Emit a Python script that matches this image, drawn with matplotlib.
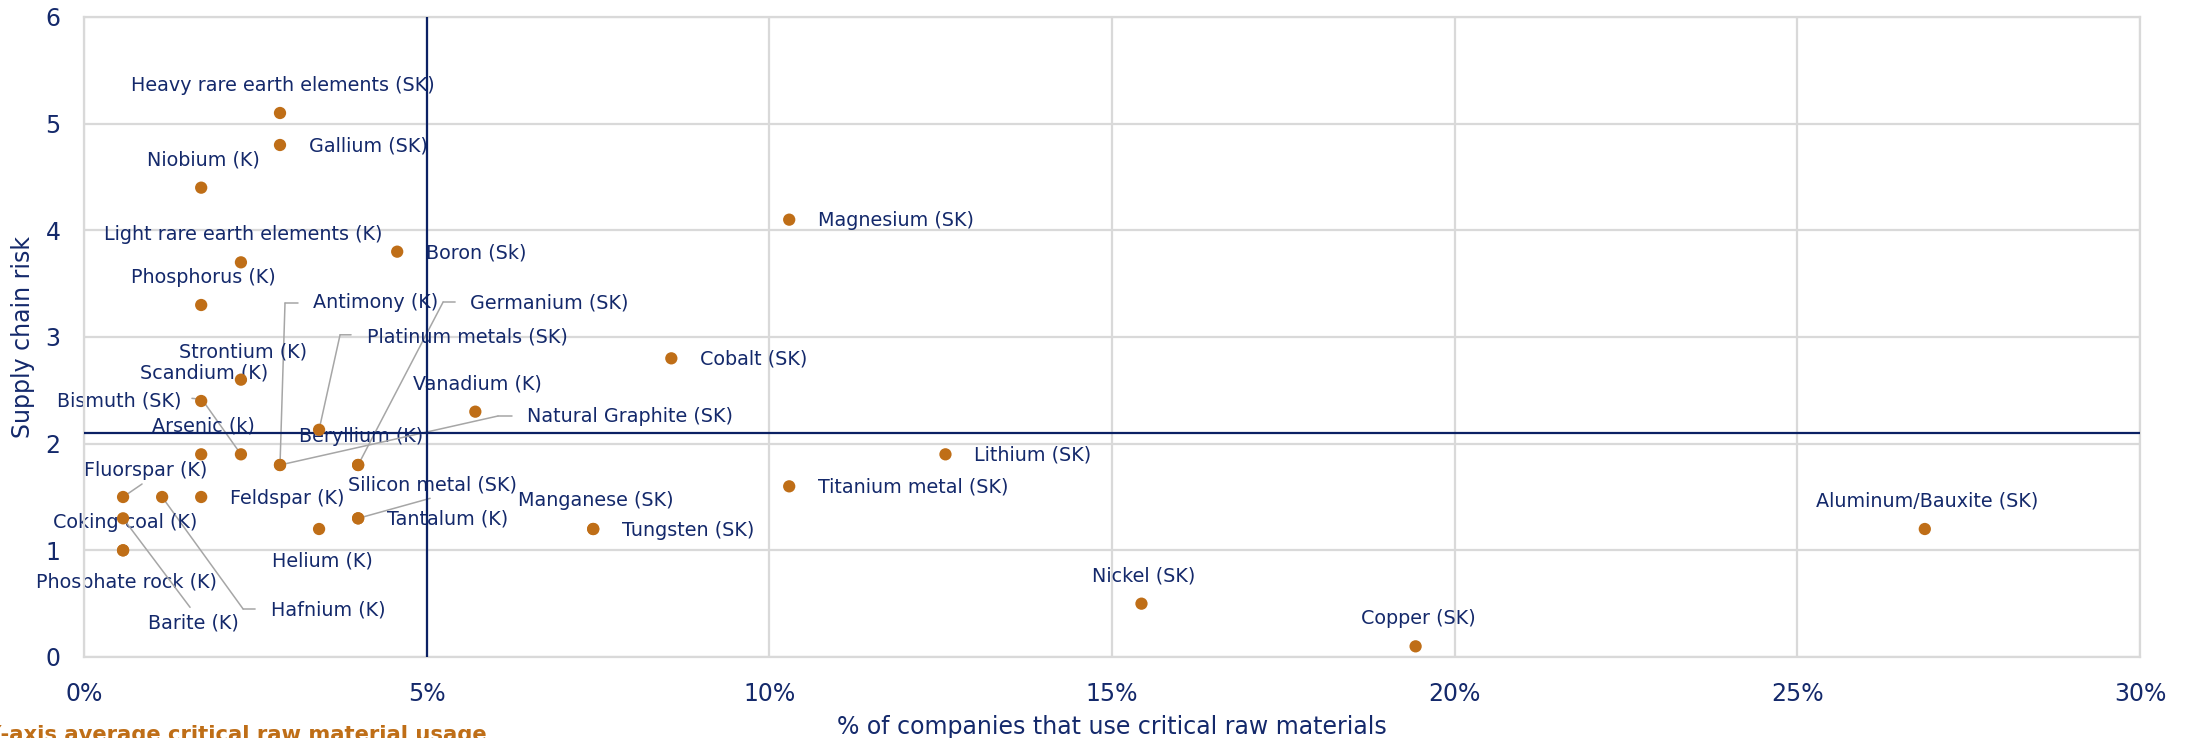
import matplotlib
matplotlib.use("Agg")
import matplotlib.pyplot as plt
from matplotlib.transforms import offset_copy

# data: % of companies using each raw material, supply chain risk
names = [
    "Heavy rare earth elements (SK)", "Gallium (SK)", "Niobium (K)",
    "Light rare earth elements (K)", "Boron (Sk)", "Phosphorus (K)",
    "Magnesium (SK)", "Antimony (K)", "Germanium (SK)", "Platinum metals (SK)",
    "Strontium (K)", "Scandium (K)", "Bismuth (SK)", "Arsenic (k)",
    "Beryllium (K)", "Vanadium (K)", "Natural Graphite (SK)", "Cobalt (SK)",
    "Lithium (SK)", "Titanium metal (SK)", "Fluorspar (K)", "Hafnium (K)",
    "Feldspar (K)", "Coking coal (K)", "Phosphate rock (K)", "Barite (K)",
    "Helium (K)", "Silicon metal (SK)", "Tantalum (K)", "Manganese (SK)",
    "Tungsten (SK)", "Aluminum/Bauxite (SK)", "Nickel (SK)", "Copper (SK)",
]
usage = [2.86, 2.86, 1.71, 2.29, 4.57, 1.71, 10.29, 2.86, 4.00, 3.43,
         2.29, 1.71, 2.29, 1.71, 4.00, 5.71, 2.86, 8.57, 12.57, 10.29,
         0.57, 1.14, 1.71, 0.57, 0.57, 0.57, 3.43, 4.00, 4.00, 7.43,
         7.43, 26.86, 15.43, 19.43]
risk = [5.1, 4.8, 4.4, 3.7, 3.8, 3.3, 4.1, 1.8, 1.8, 2.13,
        2.6, 2.4, 1.9, 1.9, 1.8, 2.3, 1.8, 2.8, 1.9, 1.6,
        1.5, 1.5, 1.5, 1.0, 1.0, 1.3, 1.2, 1.3, 1.3, 1.2,
        1.2, 1.2, 0.5, 0.1]
usage_avg = 5.0
risk_avg = 2.1

x_ticks = [0, 5, 10, 15, 20, 25, 30]
y_ticks = [0, 1, 2, 3, 4, 5, 6]

# label placement (pixel offsets from the dot)
ABOVE = (2.5, 28, "center")
RIGHT = (29, -1, "left")
BELOW = (3, -32, "center")
placement = {
    "Gallium (SK)": RIGHT, "Boron (Sk)": RIGHT, "Magnesium (SK)": RIGHT,
    "Cobalt (SK)": RIGHT, "Lithium (SK)": RIGHT, "Titanium metal (SK)": RIGHT,
    "Feldspar (K)": RIGHT, "Tantalum (K)": RIGHT, "Tungsten (SK)": RIGHT,
    "Phosphate rock (K)": BELOW, "Helium (K)": BELOW,
    "Antimony (K)": (33, 162, "left"),
    "Germanium (SK)": (112, 162, "left"),
    "Platinum metals (SK)": (48, 93, "left"),
    "Natural Graphite (SK)": (247, 48, "left"),
    "Bismuth (SK)": (-59, 53, "right"),
    "Fluorspar (K)": (22.5, 27, "center"),
    "Hafnium (K)": (109, -113, "left"),
    "Barite (K)": (70, -105, "center"),
    "Silicon metal (SK)": (74, 33, "center"),
}
leaders = {
    "Antimony (K)": [(5, 162), (18, 162)],
    "Germanium (SK)": [(85, 163), (97, 163)],
    "Platinum metals (SK)": [(21, 95), (32, 95)],
    "Natural Graphite (SK)": [(218, 49), (232, 49)],
    "Bismuth (SK)": [(-39, 55), (-49, 56)],
    "Fluorspar (K)": [(19, 13)],
    "Hafnium (K)": [(81, -112), (93, -112)],
    "Barite (K)": [(67, -89)],
    "Silicon metal (SK)": [(72, 20)],
}

navy = "#14296b"
line_navy = "#0b2164"
orange = "#bf6e17"
grid_grey = "#d9d9d9"
leader_grey = "#a6a6a6"

fig = plt.figure(figsize=(21.93, 7.38), dpi=100)
ax = fig.add_axes([84 / 2193, 1 - 657 / 738, 2056 / 2193, 640 / 738])

ax.set_xlim(0, 30)
ax.set_ylim(0, 6)
ax.set_xticks(x_ticks)
ax.set_yticks(y_ticks)
ax.set_xticklabels([f"{t}%" for t in x_ticks])
ax.tick_params(length=0, labelsize=17, labelcolor=navy)
ax.tick_params(axis="x", pad=18)
ax.tick_params(axis="y", pad=17)
ax.grid(True, color=grid_grey, lw=1.6, zorder=0)
ax.set_axisbelow(True)
for s in ax.spines.values():
    s.set_color(grid_grey)
    s.set_linewidth(1.6)

ax.axvline(usage_avg, color=line_navy, lw=1.6, zorder=3)
ax.axhline(risk_avg, color=line_navy, lw=1.6, zorder=3)

ax.scatter(usage, risk, s=78, color=orange, edgecolors="none", zorder=4)

def leader(x, y, pts):
    prev = (0, 0)
    for p in pts:
        a = offset_copy(ax.transData, fig=fig, x=prev[0], y=prev[1], units="dots")
        b = offset_copy(ax.transData, fig=fig, x=p[0], y=p[1], units="dots")
        ax.annotate("", xy=(x, y), xycoords=b, xytext=(x, y), textcoords=a,
                    arrowprops=dict(arrowstyle="-", color=leader_grey, lw=1.1,
                                    shrinkA=0, shrinkB=0), zorder=2)
        prev = p

for n, x, y in zip(names, usage, risk):
    dx, dy, ha = placement.get(n, ABOVE)
    ax.annotate(n, (x, y), xytext=(dx, dy), textcoords="offset pixels",
                ha=ha, va="center", fontsize=13.8, color=navy, zorder=2)
    if n in leaders:
        leader(x, y, leaders[n])

fig.text(23 / 2193, 1 - 337 / 738, "Supply chain risk", rotation=90,
         ha="center", va="center", fontsize=17, color=navy)
fig.text(1112 / 2193, 1 - 727 / 738, "% of companies that use critical raw materials",
         ha="center", va="center", fontsize=17, color=navy)
# legend entry for the vertical line, cut off at the figure edge like the source
fig.text(487 / 2193, 1 - 741 / 738, "X-axis average critical raw material usage",
         ha="right", va="baseline", fontsize=15.2, fontweight="bold", color=orange)

fig.savefig("out.png", dpi=100)
